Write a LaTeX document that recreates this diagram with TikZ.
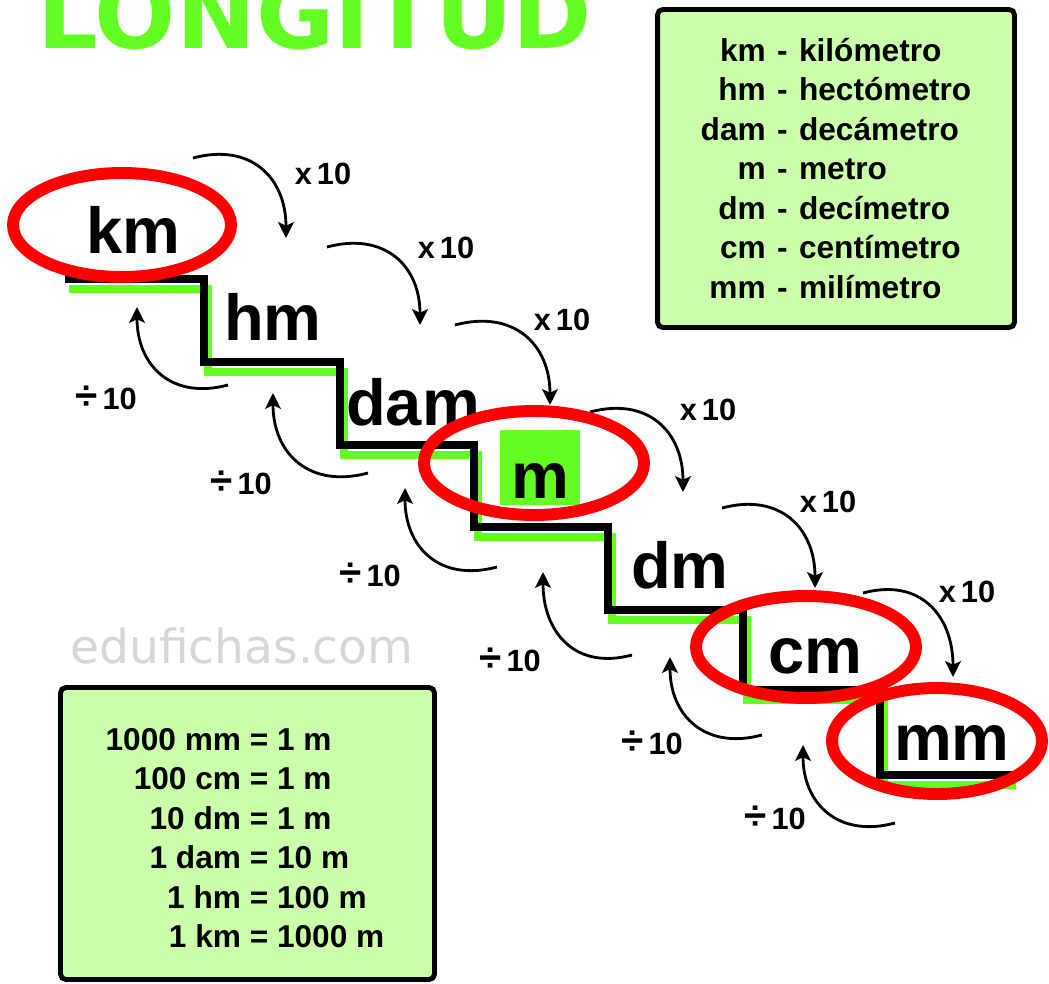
\documentclass[tikz,border=0pt]{standalone}
\usepackage{fontspec}
\setmainfont{Liberation Sans}
\newfontfamily\webfont{DejaVu Sans}
\usepackage{xcolor}
\usepackage{tikz}
\usetikzlibrary{arrows.meta,positioning}
\definecolor{limegreen}{RGB}{99,255,34}
\definecolor{boxgreen}{RGB}{204,255,170}
\definecolor{ringred}{RGB}{255,0,0}

\begin{document}
\begin{tikzpicture}[x=0.02cm, y=0.02cm,
        unit/.style={font=\fontsize{37}{40}\selectfont\bfseries, inner sep=0pt, anchor=base},
        ring/.style={draw=ringred, line width=6.8pt},
        mult/.style={-{Stealth[length=9pt,width=9pt,inset=2pt]}, line width=1.6pt, looseness=1.25},
        factor/.style={font=\fontsize{17.5}{20}\selectfont\bfseries, inner sep=0pt},
        legend/.style={draw, line width=2.8pt, fill=boxgreen, rounded corners=3pt,
            font=\fontsize{18}{22.5}\selectfont\bfseries, inner sep=0pt}]
    \useasboundingbox (0,0) rectangle (1049,-984);

    % Title
    \node[text=limegreen, font=\webfont\bfseries\fontsize{54.4}{60}\selectfont,
        anchor=base west, inner sep=0pt] (title) at (37,-48) {LONGITUD};

    % Legend boxes
    \node[legend, minimum width=7.14cm, minimum height=6.36cm] (names) at (836,-168.5) {};
    \node[font=\fontsize{18}{22.5}\selectfont\bfseries, inner sep=0pt] (namelist) at (836,-172)
        {\begin{tabular}{@{}r@{\hspace{6.5pt}-\hspace{6.5pt}}l@{}}
            km & kilómetro\\ hm & hectómetro\\ dam & decámetro\\ m & metro\\
            dm & decímetro\\ cm & centímetro\\ mm & milímetro
        \end{tabular}};
    \node[legend, minimum width=7.48cm, minimum height=5.84cm] (equivs) at (247.5,-833.5) {};
    \node[font=\fontsize{18}{22.5}\selectfont\bfseries, inner sep=0pt] (equivlist) at (245,-841)
        {\begin{tabular}{@{}r@{\ =\ }l@{}}
            1000 mm & 1 m\\ 100 cm & 1 m\\ 10 dm & 1 m\\
            1 dam & 10 m\\ 1 hm & 100 m\\ 1 km & 1000 m
        \end{tabular}};
    \node[text=black!16, font=\webfont\fontsize{26.8}{30}\selectfont, anchor=base, inner sep=0pt]
        (site) at (242,-663) {edufichas.com};

    % Staircase with green shadow
    \foreach \st/\dx/\dy in {limegreen/4/-10, black/0/0}
        \draw[\st, line width=4.5pt, shift={(\dx,\dy)}] (65,-279) -| (204,-362) -| (340,-445)
            -| (474,-527) -| (608,-610) -| (743,-690) -| (880,-775) -- (1012,-775);
    \fill[limegreen] (500,-430) rectangle (580,-505);

    % Units on the steps
    \foreach \u/\x/\y in {km/133/253, hm/273/340, dam/413/425, m/540/498,
                          dm/680/588, cm/815/673, mm/952/760}
        \node[unit] (\u) at (\x,-\y) {\u};

    % x 10 arrows
    \foreach \sx/\sy/\ex/\ey/\lx/\ly [count=\n] in {193/158/286/238/323/174,
            327/247/420/325/446/248, 455/325/550/405/562/320, 590/412/683/492/708/410,
            722/508/815/588/828/502, 863/593/953/677/967/592} {
        \coordinate (xs\n) at (\sx,-\sy);
        \coordinate (xe\n) at (\ex,-\ey);
        \draw[mult] (xs\n) to[out=15, in=90] (xe\n);
        \node[factor] (times\n) at (\lx,-\ly) {x\,10};
    }

    % divide arrows
    \foreach \sx/\sy/\ex/\ey/\lx/\ly [count=\n] in {228/385/137/307/106/398,
            368/473/273/393/241/483, 497/567/405/488/370/575, 632/655/543/572/510/660,
            762/735/670/657/652/743, 895/823/803/745/775/818} {
        \coordinate (ds\n) at (\sx,-\sy);
        \coordinate (de\n) at (\ex,-\ey);
        \draw[mult] (ds\n) to[out=195, in=-90] (de\n);
        \node[factor] (div\n) at (\lx,-\ly) {{\fontsize{23}{20}\selectfont ÷}\,10};
    }

    % Red rings
    \draw[ring] (122,-225) ellipse [x radius=109, y radius=52];
    \draw[ring] (534,-463) ellipse [x radius=110, y radius=52];
    \draw[ring] (806,-647) ellipse [x radius=110, y radius=51];
    \draw[ring] (937,-741) ellipse [x radius=105, y radius=53];
\end{tikzpicture}
\end{document}
